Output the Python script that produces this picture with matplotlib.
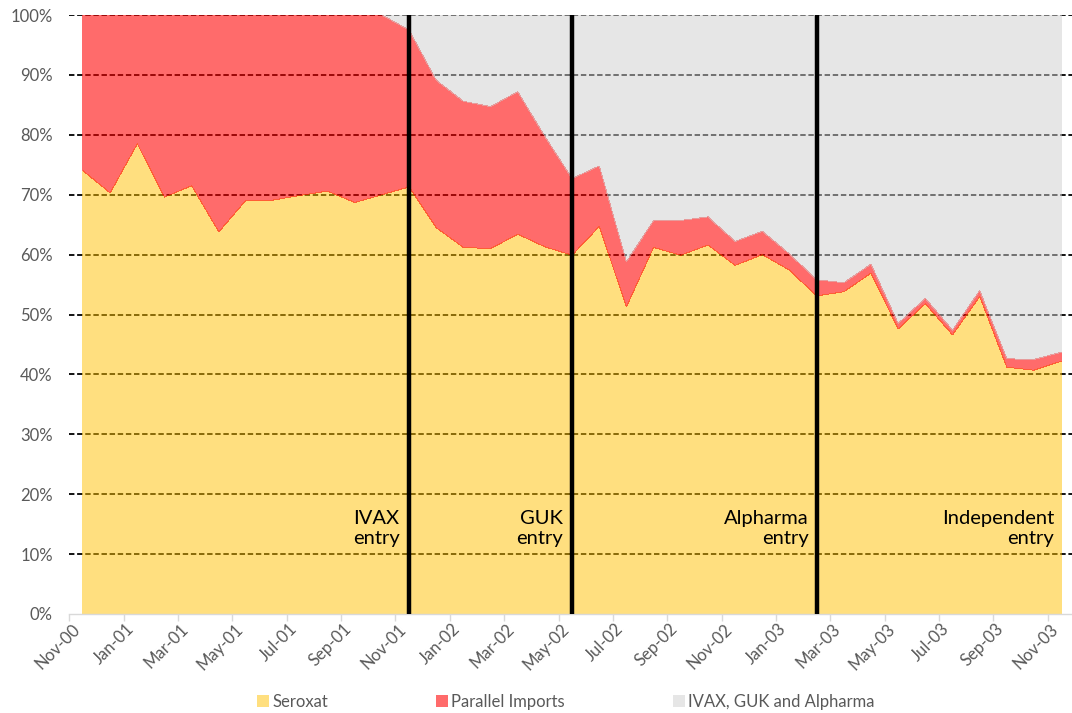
import matplotlib
matplotlib.use("Agg")
import matplotlib.pyplot as plt
from matplotlib.ticker import FixedLocator, PercentFormatter
import numpy as np

plt.rcParams['font.family'] = ['Lato', 'DejaVu Sans']

months = ["Nov-00", "Dec-00", "Jan-01", "Feb-01", "Mar-01", "Apr-01", "May-01", "Jun-01",
          "Jul-01", "Aug-01", "Sep-01", "Oct-01", "Nov-01", "Dec-01", "Jan-02", "Feb-02",
          "Mar-02", "Apr-02", "May-02", "Jun-02", "Jul-02", "Aug-02", "Sep-02", "Oct-02",
          "Nov-02", "Dec-02", "Jan-03", "Feb-03", "Mar-03", "Apr-03", "May-03", "Jun-03",
          "Jul-03", "Aug-03", "Sep-03", "Oct-03", "Nov-03"]

seroxat = [74.0, 70.3, 78.5, 69.6, 71.5, 63.8, 69.1, 69.1, 69.9, 70.6, 68.7, 70.0,
           71.3, 64.5, 61.2, 61.0, 63.4, 61.3, 59.9, 64.7, 51.3, 61.2, 59.9, 61.6,
           58.2, 60.0, 57.4, 53.1, 53.8, 56.9, 47.6, 51.8, 46.6, 53.0, 41.2, 40.7, 42.2]

parallel_imports = [26.0, 29.7, 21.5, 30.4, 28.5, 36.2, 30.9, 30.9, 30.1, 29.4, 31.3, 30.0,
                    26.2, 24.6, 24.4, 23.7, 23.8, 18.4, 12.8, 10.1, 7.5, 4.5, 5.8, 4.7,
                    4.0, 3.9, 2.7, 2.7, 1.5, 1.5, 0.9, 0.9, 0.8, 1.0, 1.4, 1.8, 1.5]

generics = [0.0, 0.0, 0.0, 0.0, 0.0, 0.0, 0.0, 0.0, 0.0, 0.0, 0.0, 0.0,
            2.5, 10.9, 14.4, 15.3, 12.8, 20.3, 27.3, 25.2, 41.2, 34.3, 34.3, 33.7,
            37.8, 36.1, 39.9, 44.2, 44.7, 41.6, 51.5, 47.3, 52.6, 46.0, 57.4, 57.5, 56.3]

series_names = ["Seroxat", "Parallel Imports", "IVAX, GUK and Alpharma"]

entry_months = ["Nov-01", "May-02", "Feb-03"]
entry_labels = ["IVAX\nentry", "GUK\nentry", "Alpharma\nentry", "Independent\nentry"]

fig = plt.figure(figsize=(10.72, 7.13), dpi=100)
ax = fig.add_axes([69.4 / 1072, (713 - 614) / 713, (1074.8 - 69.4) / 1072, 599 / 713])

x = np.arange(len(months))
colors = ["#FFC000", "#FF0000", "#CFCECE"]
alphas = [0.5, 0.58, 0.5]
polys = ax.stackplot(x, seroxat, parallel_imports, generics, colors=colors,
                     labels=series_names, linewidth=0, zorder=2)
for p, a in zip(polys, alphas):
    p.set_alpha(a)
    p.set_antialiased(False)

ax.set_xlim(-0.5, len(months) - 0.5)
ax.set_ylim(0, 100)

# grid
ax.yaxis.set_major_locator(FixedLocator(np.arange(0, 101, 10)))
ax.yaxis.set_major_formatter(PercentFormatter(decimals=0))
for yv in np.arange(10, 101, 10):
    ax.axhline(yv, color="black", lw=1.3, ls=(0, (3, 1.5)), zorder=1)

# entry lines
for m in entry_months:
    ax.axvline(months.index(m), color="black", lw=3.2, zorder=4)

# entry texts
text_x = [11.65, 17.65, 26.72, 35.74]
for tx, lab in zip(text_x, entry_labels):
    ax.text(tx, 14.3, lab, ha="right", va="center", fontsize=14.5, color="black",
            linespacing=1.25, zorder=5)

for s in ["left", "top", "right"]:
    ax.spines[s].set_visible(False)
ax.spines["bottom"].set_color("#D9D9D9")
ax.spines["bottom"].set_linewidth(1.0)
ax.spines["bottom"].set_zorder(3)

ax.set_xticks(x[::2])
ax.set_xticklabels(months[::2], rotation=45, ha="right", va="top",
                   fontsize=12, color="#595959")
ax.set_xticks(np.arange(-0.5, len(months), 2), minor=True)
ax.tick_params(axis="x", which="major", length=0, pad=5)
ax.tick_params(axis="x", which="minor", length=5, color="#D9D9D9", width=1)
ax.tick_params(axis="y", length=0, pad=12, labelsize=12, labelcolor="#595959")

handles, labels = ax.get_legend_handles_labels()
leg = fig.legend(handles, labels, loc="center", bbox_to_anchor=(566 / 1072, 1 - 702 / 713),
                 ncol=3, frameon=False, fontsize=12, handlelength=0.7, handleheight=0.7,
                 handletextpad=0.2, columnspacing=6.5, labelcolor="#595959")

fig.savefig("out.png", dpi=100)
